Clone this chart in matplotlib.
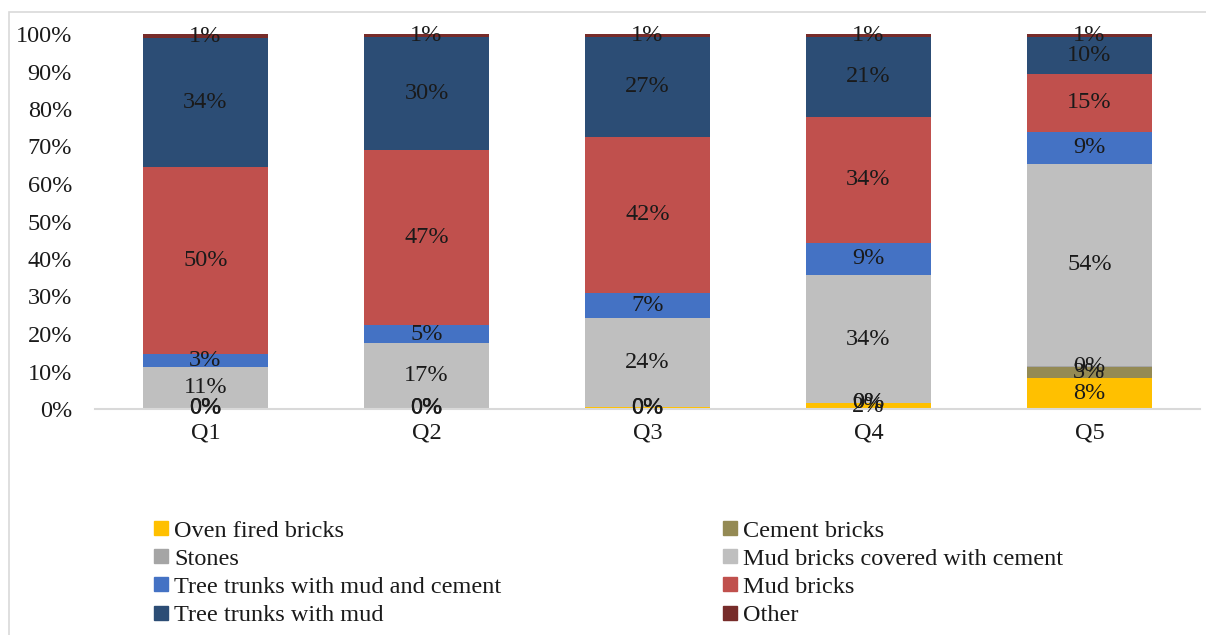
import matplotlib
matplotlib.use("Agg")
import matplotlib.pyplot as plt
from matplotlib.patches import Rectangle
from matplotlib.lines import Line2D
import numpy as np

plt.rcParams['font.family'] = ['Liberation Serif', 'DejaVu Serif']

categories = ["Q1", "Q2", "Q3", "Q4", "Q5"]

series_names = [
    "Oven fired bricks",
    "Cement bricks",
    "Stones",
    "Mud bricks covered with cement",
    "Tree trunks with mud and cement",
    "Mud bricks",
    "Tree trunks with mud",
    "Other",
]

oven_fired_bricks = [0.4, 0.4, 0.5, 1.6, 8.3]
cement_bricks = [0.0, 0.0, 0.0, 0.0, 3.0]
stones = [0.0, 0.0, 0.0, 0.0, 0.2]
mud_bricks_cement = [10.8, 17.2, 23.8, 34.1, 53.8]
trunks_mud_cement = [3.4, 4.8, 6.7, 8.6, 8.7]
mud_bricks = [50.0, 46.6, 41.6, 33.6, 15.3]
trunks_mud = [34.4, 30.2, 26.6, 21.3, 10.0]
other = [0.9, 0.8, 0.8, 0.8, 0.7]

series_values = [oven_fired_bricks, cement_bricks, stones, mud_bricks_cement,
                 trunks_mud_cement, mud_bricks, trunks_mud, other]

colors = ["#FFC000", "#948A54", "#A5A5A5", "#BFBFBF",
          "#4472C4", "#C0504D", "#2C4D75", "#772C2A"]

fig = plt.figure(figsize=(12.06, 6.35), dpi=100)
ax = fig.add_axes([95 / 1206, (635 - 409) / 635, 1105 / 1206, 375 / 635])

x = np.arange(len(categories))
bottom = np.zeros(len(categories))
fs = 17.5
for name, vals, col in zip(series_names, series_values, colors):
    vals = np.array(vals, dtype=float)
    ax.bar(x, vals, width=0.57, bottom=bottom, color=col, label=name, zorder=2)
    for xi, b, v in zip(x, bottom, vals):
        ax.text(xi, b + v / 2, f"{int(round(v))}%", ha="center", va="center",
                fontsize=fs, color="#1a1a1a", zorder=3)
    bottom += vals

ax.set_xlim(-0.5, len(categories) - 0.5)
ax.set_ylim(0, 100)
ax.set_yticks(np.arange(0, 101, 10))
ax.set_yticklabels([f"{t}%" for t in range(0, 101, 10)], fontsize=fs)
ax.set_xticks(x)
ax.set_xticklabels(categories, fontsize=fs)
ax.tick_params(axis="both", length=0, colors="#1a1a1a")
ax.tick_params(axis="y", pad=16.5)
ax.tick_params(axis="x", pad=10)
for s in ["top", "right", "left"]:
    ax.spines[s].set_visible(False)
ax.spines["bottom"].set_color("#D9D9D9")
ax.spines["bottom"].set_linewidth(1.5)

# legend: two columns read row by row, so reorder for column-major filling
order = [0, 2, 4, 6, 1, 3, 5, 7]
handles = [Line2D([0], [0], marker="s", linestyle="none", markersize=10.5,
                  markerfacecolor=colors[i], markeredgecolor=colors[i])
           for i in order]
labels = [series_names[i] for i in order]
leg = fig.legend(handles, labels, ncol=2, loc="upper left",
                 bbox_to_anchor=(144 / 1206, 1 - 510 / 635), frameon=False,
                 fontsize=fs, handlelength=0.6, handletextpad=0.25,
                 columnspacing=9.1, labelspacing=0.25, borderaxespad=0)
for t in leg.get_texts():
    t.set_color("#1a1a1a")

# outer chart border
fig.patches.append(Rectangle((9 / 1206, -0.05), 1.2, (635 - 12) / 635 + 0.05,
                             transform=fig.transFigure, fill=False,
                             edgecolor="#D9D9D9", linewidth=1.2))

fig.savefig("out.png", dpi=100)
